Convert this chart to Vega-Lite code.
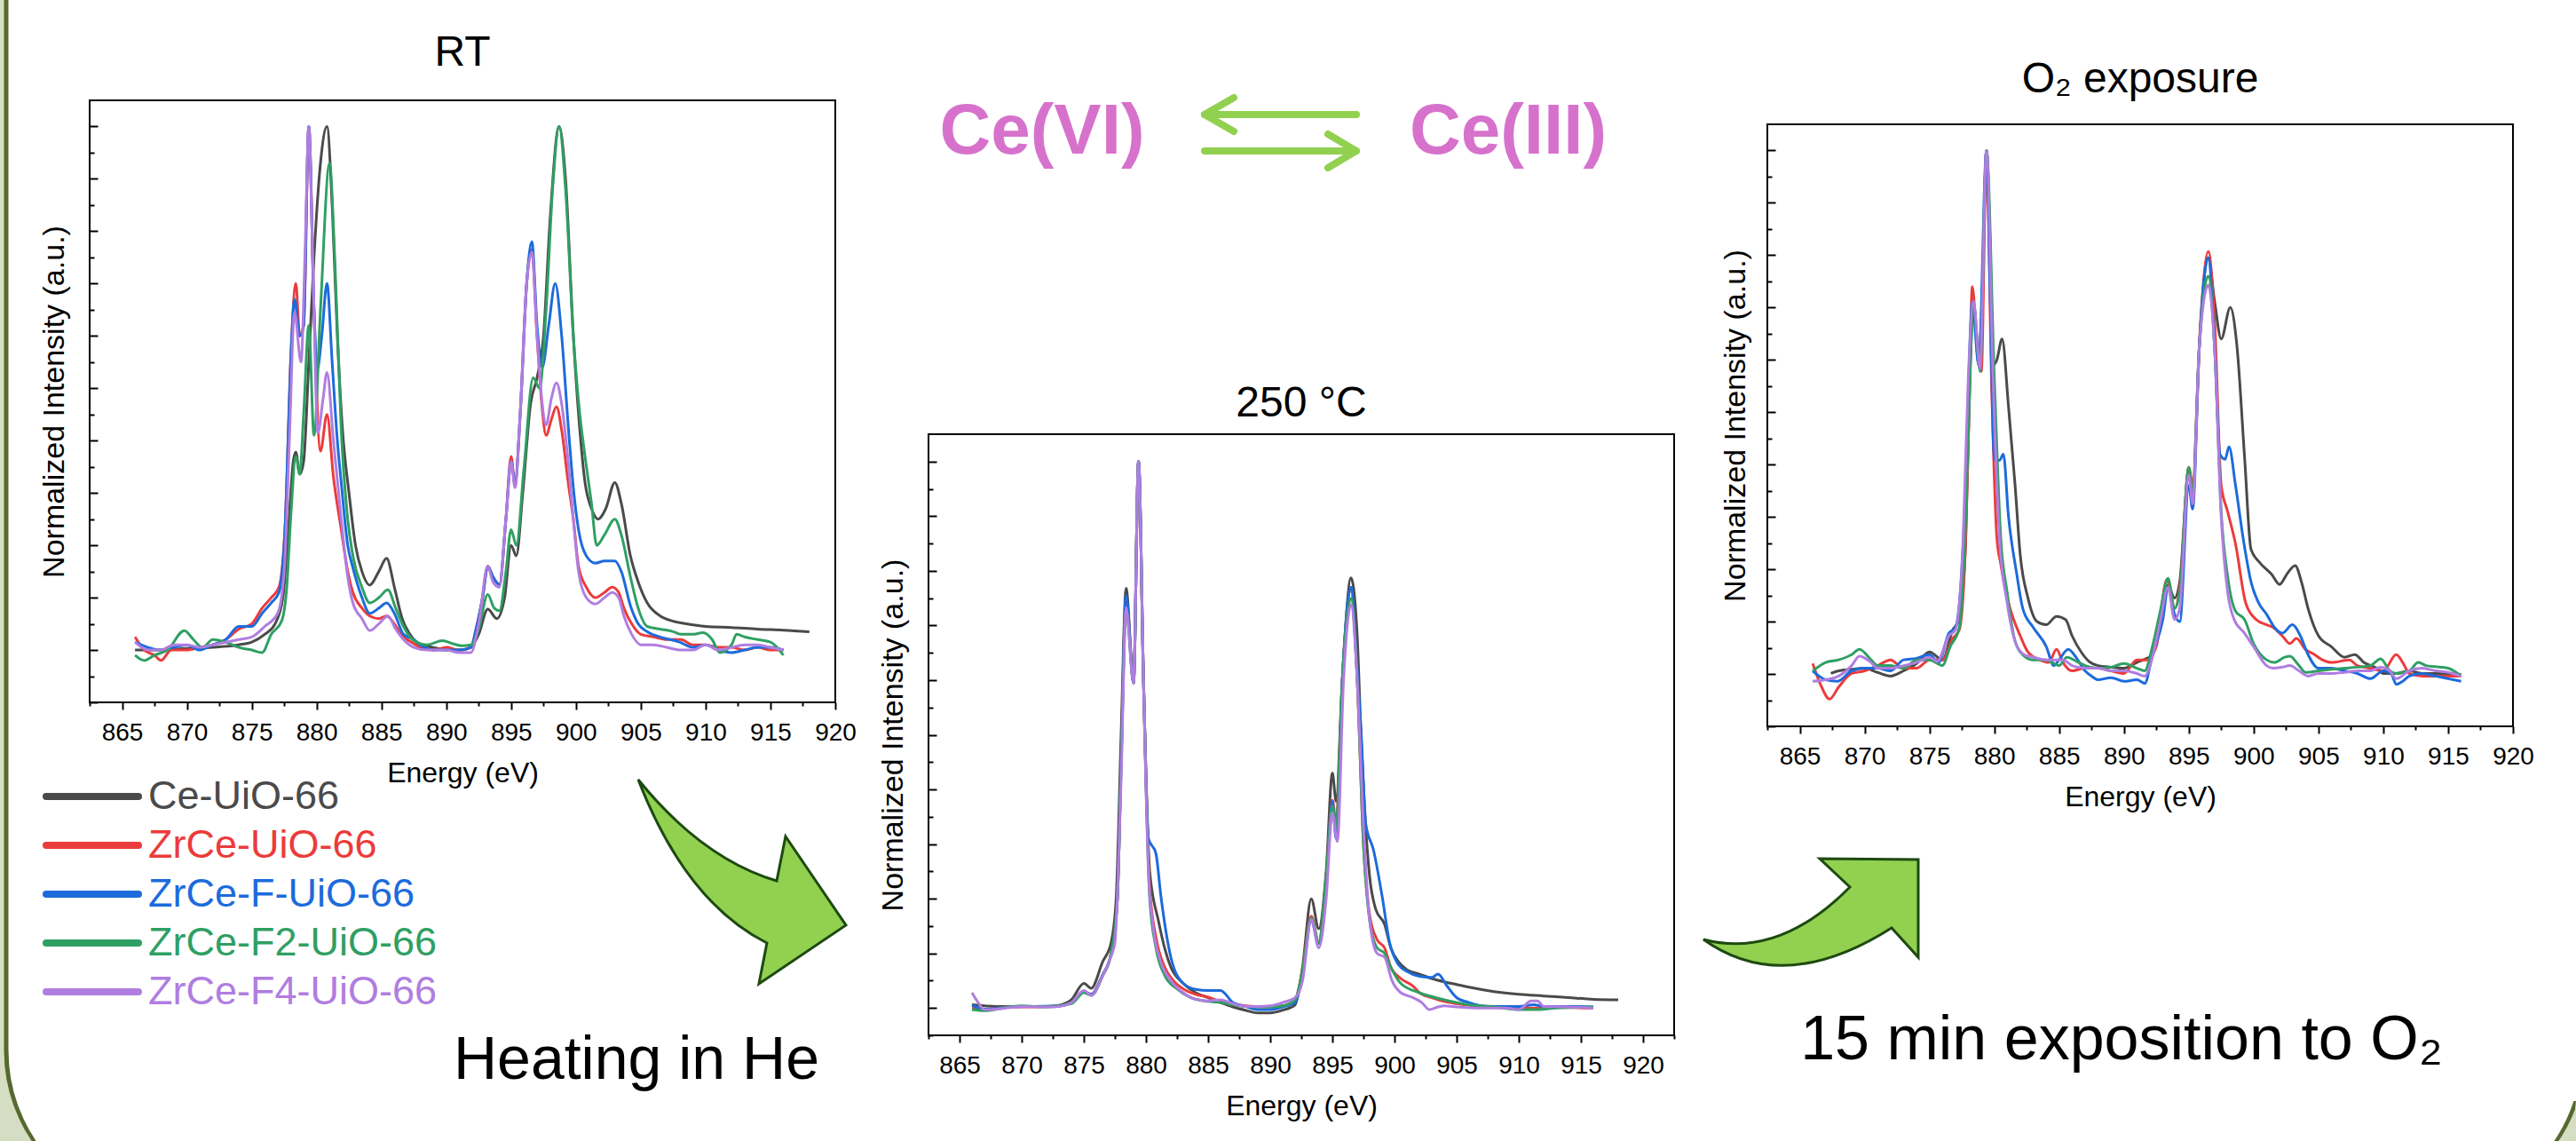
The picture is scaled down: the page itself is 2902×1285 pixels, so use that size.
{
"$schema":"https://vega.github.io/schema/vega-lite/v6.json",
"background":"#ffffff",
"padding":0,
"config":{"view":{"stroke":null},"font":"Liberation Sans"},
"datasets":{"spectra":[
{"p":1,"s":"Ce","e":866,"i":0},{"p":1,"s":"Ce","e":868,"i":0},{"p":1,"s":"Ce","e":870,"i":0.003},{"p":1,"s":"Ce","e":872,"i":0.005},{"p":1,"s":"Ce","e":874,"i":0.01},{"p":1,"s":"Ce","e":875,"i":0.015},{"p":1,"s":"Ce","e":876,"i":0.03},{"p":1,"s":"Ce","e":876.8,"i":0.05},{"p":1,"s":"Ce","e":877.4,"i":0.1},{"p":1,"s":"Ce","e":877.8,"i":0.22},{"p":1,"s":"Ce","e":878.2,"i":0.36},{"p":1,"s":"Ce","e":878.4,"i":0.378},{"p":1,"s":"Ce","e":878.7,"i":0.336},{"p":1,"s":"Ce","e":879,"i":0.36},{"p":1,"s":"Ce","e":879.4,"i":0.55},{"p":1,"s":"Ce","e":879.8,"i":0.75},{"p":1,"s":"Ce","e":880.3,"i":0.93},{"p":1,"s":"Ce","e":880.8,"i":1},{"p":1,"s":"Ce","e":881.2,"i":0.85},{"p":1,"s":"Ce","e":881.6,"i":0.6},{"p":1,"s":"Ce","e":882,"i":0.42},{"p":1,"s":"Ce","e":882.5,"i":0.3},{"p":1,"s":"Ce","e":883,"i":0.2},{"p":1,"s":"Ce","e":883.5,"i":0.15},{"p":1,"s":"Ce","e":884.1,"i":0.124},{"p":1,"s":"Ce","e":884.8,"i":0.15},{"p":1,"s":"Ce","e":885.4,"i":0.175},{"p":1,"s":"Ce","e":886,"i":0.12},{"p":1,"s":"Ce","e":886.6,"i":0.06},{"p":1,"s":"Ce","e":887.2,"i":0.03},{"p":1,"s":"Ce","e":888,"i":0.01},{"p":1,"s":"Ce","e":889,"i":0.005},{"p":1,"s":"Ce","e":890,"i":0},{"p":1,"s":"Ce","e":891,"i":0},{"p":1,"s":"Ce","e":891.9,"i":0.005},{"p":1,"s":"Ce","e":892.5,"i":0.03},{"p":1,"s":"Ce","e":893.2,"i":0.078},{"p":1,"s":"Ce","e":893.9,"i":0.06},{"p":1,"s":"Ce","e":894.5,"i":0.1},{"p":1,"s":"Ce","e":895,"i":0.2},{"p":1,"s":"Ce","e":895.4,"i":0.18},{"p":1,"s":"Ce","e":895.9,"i":0.3},{"p":1,"s":"Ce","e":896.5,"i":0.47},{"p":1,"s":"Ce","e":897,"i":0.52},{"p":1,"s":"Ce","e":897.5,"i":0.6},{"p":1,"s":"Ce","e":898,"i":0.82},{"p":1,"s":"Ce","e":898.7,"i":1},{"p":1,"s":"Ce","e":899.2,"i":0.9},{"p":1,"s":"Ce","e":899.8,"i":0.6},{"p":1,"s":"Ce","e":900.3,"i":0.42},{"p":1,"s":"Ce","e":900.7,"i":0.32},{"p":1,"s":"Ce","e":901.2,"i":0.27},{"p":1,"s":"Ce","e":901.7,"i":0.25},{"p":1,"s":"Ce","e":902.3,"i":0.27},{"p":1,"s":"Ce","e":903,"i":0.32},{"p":1,"s":"Ce","e":903.5,"i":0.28},{"p":1,"s":"Ce","e":904.2,"i":0.18},{"p":1,"s":"Ce","e":904.8,"i":0.13},{"p":1,"s":"Ce","e":905.5,"i":0.09},{"p":1,"s":"Ce","e":906.5,"i":0.065},{"p":1,"s":"Ce","e":907.5,"i":0.055},{"p":1,"s":"Ce","e":908.5,"i":0.05},{"p":1,"s":"Ce","e":910,"i":0.045},{"p":1,"s":"Ce","e":912,"i":0.043},{"p":1,"s":"Ce","e":914,"i":0.04},{"p":1,"s":"Ce","e":916,"i":0.038},{"p":1,"s":"Ce","e":918,"i":0.035},
{"p":1,"s":"Zr","e":866,"i":0.025},{"p":1,"s":"Zr","e":866.7,"i":0},{"p":1,"s":"Zr","e":867.5,"i":-0.01},{"p":1,"s":"Zr","e":868,"i":-0.02},{"p":1,"s":"Zr","e":868.8,"i":0},{"p":1,"s":"Zr","e":870,"i":0},{"p":1,"s":"Zr","e":871,"i":0.005},{"p":1,"s":"Zr","e":872,"i":0.01},{"p":1,"s":"Zr","e":873,"i":0.02},{"p":1,"s":"Zr","e":874,"i":0.04},{"p":1,"s":"Zr","e":875,"i":0.05},{"p":1,"s":"Zr","e":875.8,"i":0.08},{"p":1,"s":"Zr","e":876.5,"i":0.1},{"p":1,"s":"Zr","e":877.1,"i":0.12},{"p":1,"s":"Zr","e":877.6,"i":0.25},{"p":1,"s":"Zr","e":878,"i":0.55},{"p":1,"s":"Zr","e":878.4,"i":0.7},{"p":1,"s":"Zr","e":878.7,"i":0.6},{"p":1,"s":"Zr","e":879,"i":0.62},{"p":1,"s":"Zr","e":879.4,"i":1},{"p":1,"s":"Zr","e":879.8,"i":0.65},{"p":1,"s":"Zr","e":880.3,"i":0.38},{"p":1,"s":"Zr","e":880.8,"i":0.45},{"p":1,"s":"Zr","e":881.3,"i":0.33},{"p":1,"s":"Zr","e":881.9,"i":0.23},{"p":1,"s":"Zr","e":882.4,"i":0.15},{"p":1,"s":"Zr","e":882.8,"i":0.11},{"p":1,"s":"Zr","e":883.5,"i":0.08},{"p":1,"s":"Zr","e":884.1,"i":0.065},{"p":1,"s":"Zr","e":884.8,"i":0.06},{"p":1,"s":"Zr","e":885.4,"i":0.065},{"p":1,"s":"Zr","e":886,"i":0.05},{"p":1,"s":"Zr","e":886.5,"i":0.03},{"p":1,"s":"Zr","e":887.3,"i":0.015},{"p":1,"s":"Zr","e":888,"i":0.005},{"p":1,"s":"Zr","e":889,"i":0},{"p":1,"s":"Zr","e":890,"i":0.005},{"p":1,"s":"Zr","e":891,"i":0},{"p":1,"s":"Zr","e":891.9,"i":0.005},{"p":1,"s":"Zr","e":892.3,"i":0.04},{"p":1,"s":"Zr","e":892.8,"i":0.1},{"p":1,"s":"Zr","e":893.2,"i":0.16},{"p":1,"s":"Zr","e":893.6,"i":0.14},{"p":1,"s":"Zr","e":894.1,"i":0.125},{"p":1,"s":"Zr","e":894.6,"i":0.25},{"p":1,"s":"Zr","e":895,"i":0.37},{"p":1,"s":"Zr","e":895.3,"i":0.315},{"p":1,"s":"Zr","e":895.7,"i":0.45},{"p":1,"s":"Zr","e":896.2,"i":0.7},{"p":1,"s":"Zr","e":896.6,"i":0.765},{"p":1,"s":"Zr","e":897,"i":0.6},{"p":1,"s":"Zr","e":897.4,"i":0.46},{"p":1,"s":"Zr","e":897.7,"i":0.41},{"p":1,"s":"Zr","e":898.1,"i":0.44},{"p":1,"s":"Zr","e":898.5,"i":0.465},{"p":1,"s":"Zr","e":898.9,"i":0.42},{"p":1,"s":"Zr","e":899.4,"i":0.32},{"p":1,"s":"Zr","e":899.8,"i":0.25},{"p":1,"s":"Zr","e":900.2,"i":0.16},{"p":1,"s":"Zr","e":900.8,"i":0.12},{"p":1,"s":"Zr","e":901.5,"i":0.1},{"p":1,"s":"Zr","e":902.2,"i":0.11},{"p":1,"s":"Zr","e":902.8,"i":0.12},{"p":1,"s":"Zr","e":903.3,"i":0.11},{"p":1,"s":"Zr","e":903.7,"i":0.08},{"p":1,"s":"Zr","e":904.3,"i":0.05},{"p":1,"s":"Zr","e":905,"i":0.03},{"p":1,"s":"Zr","e":906,"i":0.025},{"p":1,"s":"Zr","e":907,"i":0.02},{"p":1,"s":"Zr","e":908.1,"i":0.02},{"p":1,"s":"Zr","e":909,"i":0.01},{"p":1,"s":"Zr","e":910,"i":0.01},{"p":1,"s":"Zr","e":911,"i":0.005},{"p":1,"s":"Zr","e":912,"i":0.005},{"p":1,"s":"Zr","e":913,"i":0},{"p":1,"s":"Zr","e":914,"i":0.005},{"p":1,"s":"Zr","e":915,"i":0},{"p":1,"s":"Zr","e":916,"i":0},
{"p":1,"s":"F","e":866,"i":0.015},{"p":1,"s":"F","e":867,"i":0.005},{"p":1,"s":"F","e":868,"i":0},{"p":1,"s":"F","e":869,"i":0.005},{"p":1,"s":"F","e":870,"i":0.01},{"p":1,"s":"F","e":871,"i":0},{"p":1,"s":"F","e":872,"i":0.01},{"p":1,"s":"F","e":873,"i":0.02},{"p":1,"s":"F","e":874,"i":0.045},{"p":1,"s":"F","e":875,"i":0.045},{"p":1,"s":"F","e":875.8,"i":0.07},{"p":1,"s":"F","e":876.5,"i":0.09},{"p":1,"s":"F","e":877.1,"i":0.11},{"p":1,"s":"F","e":877.6,"i":0.25},{"p":1,"s":"F","e":878,"i":0.55},{"p":1,"s":"F","e":878.3,"i":0.67},{"p":1,"s":"F","e":878.7,"i":0.6},{"p":1,"s":"F","e":879,"i":0.62},{"p":1,"s":"F","e":879.4,"i":1},{"p":1,"s":"F","e":879.8,"i":0.65},{"p":1,"s":"F","e":880.05,"i":0.535},{"p":1,"s":"F","e":880.4,"i":0.6},{"p":1,"s":"F","e":880.8,"i":0.7},{"p":1,"s":"F","e":881.2,"i":0.55},{"p":1,"s":"F","e":881.6,"i":0.4},{"p":1,"s":"F","e":881.9,"i":0.32},{"p":1,"s":"F","e":882.4,"i":0.2},{"p":1,"s":"F","e":882.8,"i":0.157},{"p":1,"s":"F","e":883.5,"i":0.1},{"p":1,"s":"F","e":884.1,"i":0.07},{"p":1,"s":"F","e":884.8,"i":0.08},{"p":1,"s":"F","e":885.4,"i":0.09},{"p":1,"s":"F","e":886,"i":0.07},{"p":1,"s":"F","e":886.7,"i":0.03},{"p":1,"s":"F","e":887.5,"i":0.02},{"p":1,"s":"F","e":888,"i":0.01},{"p":1,"s":"F","e":889,"i":0},{"p":1,"s":"F","e":890,"i":0},{"p":1,"s":"F","e":891,"i":0},{"p":1,"s":"F","e":891.9,"i":0.005},{"p":1,"s":"F","e":892.3,"i":0.04},{"p":1,"s":"F","e":892.8,"i":0.1},{"p":1,"s":"F","e":893.2,"i":0.16},{"p":1,"s":"F","e":893.6,"i":0.14},{"p":1,"s":"F","e":894.1,"i":0.125},{"p":1,"s":"F","e":894.6,"i":0.25},{"p":1,"s":"F","e":895,"i":0.36},{"p":1,"s":"F","e":895.3,"i":0.32},{"p":1,"s":"F","e":895.7,"i":0.45},{"p":1,"s":"F","e":896.2,"i":0.7},{"p":1,"s":"F","e":896.6,"i":0.78},{"p":1,"s":"F","e":897,"i":0.62},{"p":1,"s":"F","e":897.4,"i":0.54},{"p":1,"s":"F","e":897.9,"i":0.62},{"p":1,"s":"F","e":898.4,"i":0.7},{"p":1,"s":"F","e":898.9,"i":0.6},{"p":1,"s":"F","e":899.4,"i":0.43},{"p":1,"s":"F","e":899.8,"i":0.31},{"p":1,"s":"F","e":900.2,"i":0.23},{"p":1,"s":"F","e":900.8,"i":0.18},{"p":1,"s":"F","e":901.5,"i":0.166},{"p":1,"s":"F","e":902.2,"i":0.17},{"p":1,"s":"F","e":903,"i":0.17},{"p":1,"s":"F","e":903.5,"i":0.15},{"p":1,"s":"F","e":904.2,"i":0.085},{"p":1,"s":"F","e":904.8,"i":0.05},{"p":1,"s":"F","e":905.5,"i":0.035},{"p":1,"s":"F","e":906.5,"i":0.025},{"p":1,"s":"F","e":908,"i":0.015},{"p":1,"s":"F","e":909,"i":0.005},{"p":1,"s":"F","e":910,"i":0.01},{"p":1,"s":"F","e":911,"i":0},{"p":1,"s":"F","e":912,"i":-0.005},{"p":1,"s":"F","e":913,"i":0},{"p":1,"s":"F","e":914,"i":0.005},{"p":1,"s":"F","e":915,"i":0.005},{"p":1,"s":"F","e":916,"i":0},
{"p":1,"s":"F2","e":866,"i":-0.01},{"p":1,"s":"F2","e":866.7,"i":-0.02},{"p":1,"s":"F2","e":867.5,"i":-0.01},{"p":1,"s":"F2","e":868.5,"i":0},{"p":1,"s":"F2","e":869.8,"i":0.037},{"p":1,"s":"F2","e":870.5,"i":0.02},{"p":1,"s":"F2","e":871.2,"i":0.005},{"p":1,"s":"F2","e":872,"i":0.02},{"p":1,"s":"F2","e":873,"i":0.015},{"p":1,"s":"F2","e":874,"i":0.005},{"p":1,"s":"F2","e":875,"i":0},{"p":1,"s":"F2","e":875.8,"i":-0.005},{"p":1,"s":"F2","e":876.5,"i":0.03},{"p":1,"s":"F2","e":877.3,"i":0.055},{"p":1,"s":"F2","e":877.7,"i":0.12},{"p":1,"s":"F2","e":878,"i":0.25},{"p":1,"s":"F2","e":878.4,"i":0.37},{"p":1,"s":"F2","e":878.7,"i":0.336},{"p":1,"s":"F2","e":879,"i":0.45},{"p":1,"s":"F2","e":879.4,"i":0.62},{"p":1,"s":"F2","e":879.8,"i":0.41},{"p":1,"s":"F2","e":880.3,"i":0.65},{"p":1,"s":"F2","e":881,"i":0.93},{"p":1,"s":"F2","e":881.4,"i":0.75},{"p":1,"s":"F2","e":881.9,"i":0.42},{"p":1,"s":"F2","e":882.4,"i":0.25},{"p":1,"s":"F2","e":882.8,"i":0.18},{"p":1,"s":"F2","e":883.5,"i":0.12},{"p":1,"s":"F2","e":884.1,"i":0.09},{"p":1,"s":"F2","e":884.8,"i":0.1},{"p":1,"s":"F2","e":885.5,"i":0.115},{"p":1,"s":"F2","e":886.1,"i":0.08},{"p":1,"s":"F2","e":886.7,"i":0.045},{"p":1,"s":"F2","e":887.4,"i":0.02},{"p":1,"s":"F2","e":888.5,"i":0.01},{"p":1,"s":"F2","e":889.7,"i":0.018},{"p":1,"s":"F2","e":890.5,"i":0.012},{"p":1,"s":"F2","e":891.2,"i":0.008},{"p":1,"s":"F2","e":891.9,"i":0.01},{"p":1,"s":"F2","e":892.5,"i":0.04},{"p":1,"s":"F2","e":893.2,"i":0.106},{"p":1,"s":"F2","e":893.7,"i":0.08},{"p":1,"s":"F2","e":894.1,"i":0.075},{"p":1,"s":"F2","e":894.6,"i":0.15},{"p":1,"s":"F2","e":895,"i":0.23},{"p":1,"s":"F2","e":895.4,"i":0.2},{"p":1,"s":"F2","e":896,"i":0.35},{"p":1,"s":"F2","e":896.7,"i":0.52},{"p":1,"s":"F2","e":897.2,"i":0.5},{"p":1,"s":"F2","e":897.7,"i":0.65},{"p":1,"s":"F2","e":898.2,"i":0.88},{"p":1,"s":"F2","e":898.7,"i":1},{"p":1,"s":"F2","e":899.2,"i":0.88},{"p":1,"s":"F2","e":899.8,"i":0.6},{"p":1,"s":"F2","e":900.3,"i":0.45},{"p":1,"s":"F2","e":900.7,"i":0.37},{"p":1,"s":"F2","e":901.2,"i":0.28},{"p":1,"s":"F2","e":901.6,"i":0.2},{"p":1,"s":"F2","e":902.2,"i":0.22},{"p":1,"s":"F2","e":903,"i":0.25},{"p":1,"s":"F2","e":903.5,"i":0.22},{"p":1,"s":"F2","e":904.2,"i":0.14},{"p":1,"s":"F2","e":904.8,"i":0.08},{"p":1,"s":"F2","e":905.5,"i":0.045},{"p":1,"s":"F2","e":906.5,"i":0.04},{"p":1,"s":"F2","e":907.5,"i":0.035},{"p":1,"s":"F2","e":908.1,"i":0.03},{"p":1,"s":"F2","e":909,"i":0.03},{"p":1,"s":"F2","e":909.8,"i":0.033},{"p":1,"s":"F2","e":910.5,"i":0.02},{"p":1,"s":"F2","e":911.1,"i":-0.005},{"p":1,"s":"F2","e":912,"i":0.01},{"p":1,"s":"F2","e":912.4,"i":0.03},{"p":1,"s":"F2","e":913,"i":0.025},{"p":1,"s":"F2","e":914,"i":0.02},{"p":1,"s":"F2","e":915,"i":0.015},{"p":1,"s":"F2","e":916,"i":-0.01},
{"p":1,"s":"F4","e":866,"i":0.015},{"p":1,"s":"F4","e":867,"i":0},{"p":1,"s":"F4","e":868,"i":0},{"p":1,"s":"F4","e":869,"i":0.01},{"p":1,"s":"F4","e":870,"i":0.01},{"p":1,"s":"F4","e":871,"i":0.005},{"p":1,"s":"F4","e":872,"i":0.01},{"p":1,"s":"F4","e":873,"i":0.015},{"p":1,"s":"F4","e":874,"i":0.02},{"p":1,"s":"F4","e":875,"i":0.025},{"p":1,"s":"F4","e":876,"i":0.045},{"p":1,"s":"F4","e":877,"i":0.07},{"p":1,"s":"F4","e":877.5,"i":0.15},{"p":1,"s":"F4","e":877.9,"i":0.4},{"p":1,"s":"F4","e":878.3,"i":0.645},{"p":1,"s":"F4","e":878.8,"i":0.55},{"p":1,"s":"F4","e":879.1,"i":0.75},{"p":1,"s":"F4","e":879.4,"i":1},{"p":1,"s":"F4","e":879.7,"i":0.75},{"p":1,"s":"F4","e":880.1,"i":0.415},{"p":1,"s":"F4","e":880.5,"i":0.48},{"p":1,"s":"F4","e":880.8,"i":0.53},{"p":1,"s":"F4","e":881.3,"i":0.4},{"p":1,"s":"F4","e":881.9,"i":0.25},{"p":1,"s":"F4","e":882.4,"i":0.14},{"p":1,"s":"F4","e":882.8,"i":0.09},{"p":1,"s":"F4","e":883.5,"i":0.06},{"p":1,"s":"F4","e":884.1,"i":0.037},{"p":1,"s":"F4","e":884.8,"i":0.05},{"p":1,"s":"F4","e":885.5,"i":0.065},{"p":1,"s":"F4","e":886.1,"i":0.04},{"p":1,"s":"F4","e":886.7,"i":0.02},{"p":1,"s":"F4","e":887.5,"i":0.005},{"p":1,"s":"F4","e":888.5,"i":0},{"p":1,"s":"F4","e":890,"i":0},{"p":1,"s":"F4","e":891,"i":-0.005},{"p":1,"s":"F4","e":891.9,"i":-0.005},{"p":1,"s":"F4","e":892.5,"i":0.05},{"p":1,"s":"F4","e":893.2,"i":0.16},{"p":1,"s":"F4","e":893.6,"i":0.13},{"p":1,"s":"F4","e":894.1,"i":0.12},{"p":1,"s":"F4","e":894.6,"i":0.25},{"p":1,"s":"F4","e":895,"i":0.36},{"p":1,"s":"F4","e":895.3,"i":0.31},{"p":1,"s":"F4","e":895.7,"i":0.45},{"p":1,"s":"F4","e":896.2,"i":0.7},{"p":1,"s":"F4","e":896.6,"i":0.76},{"p":1,"s":"F4","e":897,"i":0.6},{"p":1,"s":"F4","e":897.4,"i":0.47},{"p":1,"s":"F4","e":897.7,"i":0.43},{"p":1,"s":"F4","e":898.1,"i":0.48},{"p":1,"s":"F4","e":898.5,"i":0.51},{"p":1,"s":"F4","e":898.9,"i":0.47},{"p":1,"s":"F4","e":899.4,"i":0.36},{"p":1,"s":"F4","e":899.8,"i":0.25},{"p":1,"s":"F4","e":900.2,"i":0.15},{"p":1,"s":"F4","e":900.8,"i":0.1},{"p":1,"s":"F4","e":901.5,"i":0.088},{"p":1,"s":"F4","e":902.2,"i":0.1},{"p":1,"s":"F4","e":902.8,"i":0.11},{"p":1,"s":"F4","e":903.3,"i":0.1},{"p":1,"s":"F4","e":903.7,"i":0.065},{"p":1,"s":"F4","e":904.3,"i":0.03},{"p":1,"s":"F4","e":905,"i":0.01},{"p":1,"s":"F4","e":906,"i":0.01},{"p":1,"s":"F4","e":907,"i":0.005},{"p":1,"s":"F4","e":908.1,"i":0},{"p":1,"s":"F4","e":909,"i":0},{"p":1,"s":"F4","e":910,"i":0.01},{"p":1,"s":"F4","e":911,"i":0},{"p":1,"s":"F4","e":912,"i":0.005},{"p":1,"s":"F4","e":913,"i":0.01},{"p":1,"s":"F4","e":914,"i":0.01},{"p":1,"s":"F4","e":915,"i":0.005},{"p":1,"s":"F4","e":916,"i":0},
{"p":2,"s":"Ce","e":866,"i":0.006},{"p":2,"s":"Ce","e":868,"i":0.003},{"p":2,"s":"Ce","e":870,"i":0.003},{"p":2,"s":"Ce","e":872,"i":0.003},{"p":2,"s":"Ce","e":873,"i":0.005},{"p":2,"s":"Ce","e":874,"i":0.015},{"p":2,"s":"Ce","e":875,"i":0.045},{"p":2,"s":"Ce","e":875.6,"i":0.036},{"p":2,"s":"Ce","e":876.5,"i":0.084},{"p":2,"s":"Ce","e":877.2,"i":0.12},{"p":2,"s":"Ce","e":877.6,"i":0.2},{"p":2,"s":"Ce","e":878,"i":0.5},{"p":2,"s":"Ce","e":878.4,"i":0.768},{"p":2,"s":"Ce","e":879,"i":0.595},{"p":2,"s":"Ce","e":879.4,"i":1},{"p":2,"s":"Ce","e":879.8,"i":0.6},{"p":2,"s":"Ce","e":880.3,"i":0.25},{"p":2,"s":"Ce","e":881,"i":0.16},{"p":2,"s":"Ce","e":881.5,"i":0.11},{"p":2,"s":"Ce","e":882,"i":0.075},{"p":2,"s":"Ce","e":883,"i":0.045},{"p":2,"s":"Ce","e":884,"i":0.028},{"p":2,"s":"Ce","e":885,"i":0.019},{"p":2,"s":"Ce","e":886,"i":0.01},{"p":2,"s":"Ce","e":887,"i":0.002},{"p":2,"s":"Ce","e":888,"i":-0.004},{"p":2,"s":"Ce","e":889,"i":-0.009},{"p":2,"s":"Ce","e":890,"i":-0.009},{"p":2,"s":"Ce","e":891,"i":-0.004},{"p":2,"s":"Ce","e":892,"i":0.006},{"p":2,"s":"Ce","e":892.6,"i":0.075},{"p":2,"s":"Ce","e":893.3,"i":0.2},{"p":2,"s":"Ce","e":893.9,"i":0.145},{"p":2,"s":"Ce","e":894.5,"i":0.25},{"p":2,"s":"Ce","e":895,"i":0.43},{"p":2,"s":"Ce","e":895.3,"i":0.378},{"p":2,"s":"Ce","e":895.8,"i":0.6},{"p":2,"s":"Ce","e":896.5,"i":0.787},{"p":2,"s":"Ce","e":897,"i":0.68},{"p":2,"s":"Ce","e":897.3,"i":0.5},{"p":2,"s":"Ce","e":897.6,"i":0.36},{"p":2,"s":"Ce","e":898,"i":0.24},{"p":2,"s":"Ce","e":898.5,"i":0.18},{"p":2,"s":"Ce","e":899.2,"i":0.153},{"p":2,"s":"Ce","e":899.7,"i":0.11},{"p":2,"s":"Ce","e":900.3,"i":0.085},{"p":2,"s":"Ce","e":901,"i":0.07},{"p":2,"s":"Ce","e":902,"i":0.062},{"p":2,"s":"Ce","e":903,"i":0.054},{"p":2,"s":"Ce","e":904,"i":0.048},{"p":2,"s":"Ce","e":905,"i":0.043},{"p":2,"s":"Ce","e":906,"i":0.038},{"p":2,"s":"Ce","e":908,"i":0.03},{"p":2,"s":"Ce","e":910,"i":0.025},{"p":2,"s":"Ce","e":912,"i":0.022},{"p":2,"s":"Ce","e":914,"i":0.019},{"p":2,"s":"Ce","e":916,"i":0.016},{"p":2,"s":"Ce","e":918,"i":0.015},
{"p":2,"s":"Zr","e":866,"i":0},{"p":2,"s":"Zr","e":867,"i":-0.002},{"p":2,"s":"Zr","e":869,"i":0.002},{"p":2,"s":"Zr","e":871,"i":0.002},{"p":2,"s":"Zr","e":873,"i":0.004},{"p":2,"s":"Zr","e":874,"i":0.01},{"p":2,"s":"Zr","e":875,"i":0.03},{"p":2,"s":"Zr","e":875.6,"i":0.025},{"p":2,"s":"Zr","e":876.5,"i":0.06},{"p":2,"s":"Zr","e":877.2,"i":0.1},{"p":2,"s":"Zr","e":877.7,"i":0.2},{"p":2,"s":"Zr","e":878,"i":0.45},{"p":2,"s":"Zr","e":878.4,"i":0.75},{"p":2,"s":"Zr","e":879,"i":0.595},{"p":2,"s":"Zr","e":879.4,"i":1},{"p":2,"s":"Zr","e":879.8,"i":0.6},{"p":2,"s":"Zr","e":880.3,"i":0.22},{"p":2,"s":"Zr","e":880.8,"i":0.13},{"p":2,"s":"Zr","e":881.5,"i":0.075},{"p":2,"s":"Zr","e":882.2,"i":0.05},{"p":2,"s":"Zr","e":883,"i":0.035},{"p":2,"s":"Zr","e":884,"i":0.025},{"p":2,"s":"Zr","e":885,"i":0.02},{"p":2,"s":"Zr","e":886,"i":0.012},{"p":2,"s":"Zr","e":887,"i":0.008},{"p":2,"s":"Zr","e":888,"i":0.004},{"p":2,"s":"Zr","e":890,"i":0.002},{"p":2,"s":"Zr","e":891,"i":0.004},{"p":2,"s":"Zr","e":892,"i":0.015},{"p":2,"s":"Zr","e":892.6,"i":0.07},{"p":2,"s":"Zr","e":893.3,"i":0.168},{"p":2,"s":"Zr","e":893.9,"i":0.12},{"p":2,"s":"Zr","e":894.5,"i":0.24},{"p":2,"s":"Zr","e":895,"i":0.38},{"p":2,"s":"Zr","e":895.3,"i":0.34},{"p":2,"s":"Zr","e":895.8,"i":0.6},{"p":2,"s":"Zr","e":896.5,"i":0.765},{"p":2,"s":"Zr","e":897,"i":0.6},{"p":2,"s":"Zr","e":897.5,"i":0.3},{"p":2,"s":"Zr","e":898,"i":0.17},{"p":2,"s":"Zr","e":898.6,"i":0.125},{"p":2,"s":"Zr","e":899.2,"i":0.11},{"p":2,"s":"Zr","e":899.7,"i":0.075},{"p":2,"s":"Zr","e":900.5,"i":0.054},{"p":2,"s":"Zr","e":901.5,"i":0.04},{"p":2,"s":"Zr","e":902,"i":0.028},{"p":2,"s":"Zr","e":903,"i":0.019},{"p":2,"s":"Zr","e":904,"i":0.012},{"p":2,"s":"Zr","e":905,"i":0.008},{"p":2,"s":"Zr","e":907,"i":0.003},{"p":2,"s":"Zr","e":909,"i":0.002},{"p":2,"s":"Zr","e":911,"i":0},{"p":2,"s":"Zr","e":913,"i":0.001},{"p":2,"s":"Zr","e":916,"i":0},
{"p":2,"s":"F","e":866,"i":0.005},{"p":2,"s":"F","e":867,"i":-0.002},{"p":2,"s":"F","e":869,"i":0.002},{"p":2,"s":"F","e":871,"i":0.003},{"p":2,"s":"F","e":873,"i":0.004},{"p":2,"s":"F","e":874,"i":0.01},{"p":2,"s":"F","e":875,"i":0.03},{"p":2,"s":"F","e":875.6,"i":0.025},{"p":2,"s":"F","e":876.5,"i":0.06},{"p":2,"s":"F","e":877.2,"i":0.1},{"p":2,"s":"F","e":877.7,"i":0.2},{"p":2,"s":"F","e":878,"i":0.45},{"p":2,"s":"F","e":878.4,"i":0.755},{"p":2,"s":"F","e":879,"i":0.595},{"p":2,"s":"F","e":879.4,"i":1},{"p":2,"s":"F","e":879.8,"i":0.6},{"p":2,"s":"F","e":880.2,"i":0.31},{"p":2,"s":"F","e":880.8,"i":0.283},{"p":2,"s":"F","e":881.2,"i":0.205},{"p":2,"s":"F","e":882,"i":0.093},{"p":2,"s":"F","e":883,"i":0.045},{"p":2,"s":"F","e":884,"i":0.034},{"p":2,"s":"F","e":885,"i":0.032},{"p":2,"s":"F","e":886,"i":0.032},{"p":2,"s":"F","e":887,"i":0.01},{"p":2,"s":"F","e":888,"i":0.003},{"p":2,"s":"F","e":889,"i":-0.003},{"p":2,"s":"F","e":890,"i":-0.003},{"p":2,"s":"F","e":891,"i":0.002},{"p":2,"s":"F","e":892,"i":0.01},{"p":2,"s":"F","e":892.6,"i":0.06},{"p":2,"s":"F","e":893.3,"i":0.16},{"p":2,"s":"F","e":893.9,"i":0.118},{"p":2,"s":"F","e":894.5,"i":0.23},{"p":2,"s":"F","e":895,"i":0.378},{"p":2,"s":"F","e":895.3,"i":0.31},{"p":2,"s":"F","e":895.8,"i":0.6},{"p":2,"s":"F","e":896.5,"i":0.77},{"p":2,"s":"F","e":897,"i":0.62},{"p":2,"s":"F","e":897.3,"i":0.51},{"p":2,"s":"F","e":897.7,"i":0.335},{"p":2,"s":"F","e":898.3,"i":0.29},{"p":2,"s":"F","e":899,"i":0.205},{"p":2,"s":"F","e":899.6,"i":0.12},{"p":2,"s":"F","e":900.3,"i":0.08},{"p":2,"s":"F","e":901,"i":0.067},{"p":2,"s":"F","e":902,"i":0.058},{"p":2,"s":"F","e":903,"i":0.056},{"p":2,"s":"F","e":903.5,"i":0.062},{"p":2,"s":"F","e":904.2,"i":0.041},{"p":2,"s":"F","e":905,"i":0.019},{"p":2,"s":"F","e":906,"i":0.01},{"p":2,"s":"F","e":907,"i":0.004},{"p":2,"s":"F","e":908,"i":0.003},{"p":2,"s":"F","e":910,"i":0.003},{"p":2,"s":"F","e":911.2,"i":0.006},{"p":2,"s":"F","e":912,"i":0.003},{"p":2,"s":"F","e":914,"i":0.003},{"p":2,"s":"F","e":916,"i":0.002},
{"p":2,"s":"F2","e":866,"i":-0.003},{"p":2,"s":"F2","e":867,"i":-0.005},{"p":2,"s":"F2","e":869,"i":0.002},{"p":2,"s":"F2","e":870,"i":0.004},{"p":2,"s":"F2","e":872,"i":0.002},{"p":2,"s":"F2","e":874,"i":0.008},{"p":2,"s":"F2","e":875,"i":0.028},{"p":2,"s":"F2","e":875.6,"i":0.023},{"p":2,"s":"F2","e":876.5,"i":0.058},{"p":2,"s":"F2","e":877.2,"i":0.1},{"p":2,"s":"F2","e":877.7,"i":0.2},{"p":2,"s":"F2","e":878,"i":0.44},{"p":2,"s":"F2","e":878.4,"i":0.73},{"p":2,"s":"F2","e":879,"i":0.595},{"p":2,"s":"F2","e":879.4,"i":1},{"p":2,"s":"F2","e":879.8,"i":0.6},{"p":2,"s":"F2","e":880.3,"i":0.2},{"p":2,"s":"F2","e":880.8,"i":0.11},{"p":2,"s":"F2","e":881.5,"i":0.06},{"p":2,"s":"F2","e":882.5,"i":0.035},{"p":2,"s":"F2","e":883.5,"i":0.02},{"p":2,"s":"F2","e":885,"i":0.012},{"p":2,"s":"F2","e":886,"i":0.01},{"p":2,"s":"F2","e":887,"i":0.006},{"p":2,"s":"F2","e":888,"i":0.003},{"p":2,"s":"F2","e":890,"i":0.002},{"p":2,"s":"F2","e":891,"i":0.004},{"p":2,"s":"F2","e":892,"i":0.015},{"p":2,"s":"F2","e":892.6,"i":0.07},{"p":2,"s":"F2","e":893.3,"i":0.165},{"p":2,"s":"F2","e":893.9,"i":0.12},{"p":2,"s":"F2","e":894.5,"i":0.24},{"p":2,"s":"F2","e":895,"i":0.37},{"p":2,"s":"F2","e":895.3,"i":0.33},{"p":2,"s":"F2","e":895.8,"i":0.6},{"p":2,"s":"F2","e":896.5,"i":0.75},{"p":2,"s":"F2","e":897,"i":0.6},{"p":2,"s":"F2","e":897.5,"i":0.3},{"p":2,"s":"F2","e":898,"i":0.16},{"p":2,"s":"F2","e":898.6,"i":0.11},{"p":2,"s":"F2","e":899.2,"i":0.1},{"p":2,"s":"F2","e":899.8,"i":0.07},{"p":2,"s":"F2","e":900.5,"i":0.045},{"p":2,"s":"F2","e":902,"i":0.028},{"p":2,"s":"F2","e":904,"i":0.015},{"p":2,"s":"F2","e":906,"i":0.006},{"p":2,"s":"F2","e":908,"i":0.002},{"p":2,"s":"F2","e":910,"i":-0.003},{"p":2,"s":"F2","e":911.5,"i":-0.003},{"p":2,"s":"F2","e":913,"i":0},{"p":2,"s":"F2","e":916,"i":0.002},
{"p":2,"s":"F4","e":866,"i":0.028},{"p":2,"s":"F4","e":866.5,"i":0.01},{"p":2,"s":"F4","e":867,"i":-0.003},{"p":2,"s":"F4","e":868,"i":-0.002},{"p":2,"s":"F4","e":870,"i":0.003},{"p":2,"s":"F4","e":872,"i":0.002},{"p":2,"s":"F4","e":873,"i":0.003},{"p":2,"s":"F4","e":874,"i":0.01},{"p":2,"s":"F4","e":875,"i":0.032},{"p":2,"s":"F4","e":875.6,"i":0.023},{"p":2,"s":"F4","e":876.5,"i":0.058},{"p":2,"s":"F4","e":877,"i":0.084},{"p":2,"s":"F4","e":877.5,"i":0.12},{"p":2,"s":"F4","e":878,"i":0.42},{"p":2,"s":"F4","e":878.4,"i":0.733},{"p":2,"s":"F4","e":879,"i":0.595},{"p":2,"s":"F4","e":879.4,"i":1},{"p":2,"s":"F4","e":879.8,"i":0.6},{"p":2,"s":"F4","e":880.2,"i":0.25},{"p":2,"s":"F4","e":880.6,"i":0.145},{"p":2,"s":"F4","e":881.2,"i":0.084},{"p":2,"s":"F4","e":882,"i":0.05},{"p":2,"s":"F4","e":883,"i":0.028},{"p":2,"s":"F4","e":884,"i":0.016},{"p":2,"s":"F4","e":885,"i":0.013},{"p":2,"s":"F4","e":886,"i":0.015},{"p":2,"s":"F4","e":887,"i":0.008},{"p":2,"s":"F4","e":888,"i":0.003},{"p":2,"s":"F4","e":889,"i":0.003},{"p":2,"s":"F4","e":890,"i":0.004},{"p":2,"s":"F4","e":891,"i":0.01},{"p":2,"s":"F4","e":892,"i":0.019},{"p":2,"s":"F4","e":892.6,"i":0.05},{"p":2,"s":"F4","e":893.3,"i":0.162},{"p":2,"s":"F4","e":893.9,"i":0.11},{"p":2,"s":"F4","e":894.5,"i":0.2},{"p":2,"s":"F4","e":895,"i":0.357},{"p":2,"s":"F4","e":895.4,"i":0.305},{"p":2,"s":"F4","e":895.9,"i":0.6},{"p":2,"s":"F4","e":896.5,"i":0.738},{"p":2,"s":"F4","e":897,"i":0.6},{"p":2,"s":"F4","e":897.5,"i":0.335},{"p":2,"s":"F4","e":898,"i":0.16},{"p":2,"s":"F4","e":898.6,"i":0.1},{"p":2,"s":"F4","e":899.2,"i":0.093},{"p":2,"s":"F4","e":899.8,"i":0.05},{"p":2,"s":"F4","e":900.5,"i":0.028},{"p":2,"s":"F4","e":901.5,"i":0.019},{"p":2,"s":"F4","e":902.2,"i":0.01},{"p":2,"s":"F4","e":902.8,"i":-0.003},{"p":2,"s":"F4","e":903.5,"i":0.002},{"p":2,"s":"F4","e":904,"i":0.004},{"p":2,"s":"F4","e":905,"i":0.002},{"p":2,"s":"F4","e":907,"i":0},{"p":2,"s":"F4","e":909,"i":0},{"p":2,"s":"F4","e":910,"i":-0.003},{"p":2,"s":"F4","e":911,"i":0.013},{"p":2,"s":"F4","e":911.5,"i":0.013},{"p":2,"s":"F4","e":912,"i":0.003},{"p":2,"s":"F4","e":914,"i":0.002},{"p":2,"s":"F4","e":916,"i":0},
{"p":3,"s":"Ce","e":867.4,"i":0.001},{"p":3,"s":"Ce","e":868,"i":0.006},{"p":3,"s":"Ce","e":869,"i":0.009},{"p":3,"s":"Ce","e":870,"i":0.011},{"p":3,"s":"Ce","e":871,"i":0.003},{"p":3,"s":"Ce","e":872,"i":-0.004},{"p":3,"s":"Ce","e":873,"i":0.006},{"p":3,"s":"Ce","e":874,"i":0.02},{"p":3,"s":"Ce","e":875,"i":0.042},{"p":3,"s":"Ce","e":876,"i":0.027},{"p":3,"s":"Ce","e":876.8,"i":0.084},{"p":3,"s":"Ce","e":877.3,"i":0.104},{"p":3,"s":"Ce","e":877.8,"i":0.26},{"p":3,"s":"Ce","e":878.1,"i":0.55},{"p":3,"s":"Ce","e":878.4,"i":0.71},{"p":3,"s":"Ce","e":878.8,"i":0.59},{"p":3,"s":"Ce","e":879.1,"i":0.75},{"p":3,"s":"Ce","e":879.4,"i":1},{"p":3,"s":"Ce","e":879.7,"i":0.8},{"p":3,"s":"Ce","e":879.9,"i":0.59},{"p":3,"s":"Ce","e":880.2,"i":0.6},{"p":3,"s":"Ce","e":880.6,"i":0.64},{"p":3,"s":"Ce","e":881.1,"i":0.51},{"p":3,"s":"Ce","e":881.6,"i":0.362},{"p":3,"s":"Ce","e":882,"i":0.228},{"p":3,"s":"Ce","e":882.6,"i":0.145},{"p":3,"s":"Ce","e":883.3,"i":0.1},{"p":3,"s":"Ce","e":884,"i":0.094},{"p":3,"s":"Ce","e":884.8,"i":0.11},{"p":3,"s":"Ce","e":885.5,"i":0.104},{"p":3,"s":"Ce","e":886,"i":0.073},{"p":3,"s":"Ce","e":886.7,"i":0.042},{"p":3,"s":"Ce","e":887.3,"i":0.024},{"p":3,"s":"Ce","e":888,"i":0.016},{"p":3,"s":"Ce","e":889,"i":0.013},{"p":3,"s":"Ce","e":890,"i":0.011},{"p":3,"s":"Ce","e":891,"i":0.022},{"p":3,"s":"Ce","e":891.5,"i":0.027},{"p":3,"s":"Ce","e":892.2,"i":0.037},{"p":3,"s":"Ce","e":893,"i":0.125},{"p":3,"s":"Ce","e":893.4,"i":0.17},{"p":3,"s":"Ce","e":893.9,"i":0.145},{"p":3,"s":"Ce","e":894.3,"i":0.176},{"p":3,"s":"Ce","e":895,"i":0.39},{"p":3,"s":"Ce","e":895.3,"i":0.36},{"p":3,"s":"Ce","e":895.8,"i":0.62},{"p":3,"s":"Ce","e":896.5,"i":0.795},{"p":3,"s":"Ce","e":897,"i":0.71},{"p":3,"s":"Ce","e":897.5,"i":0.64},{"p":3,"s":"Ce","e":898.2,"i":0.7},{"p":3,"s":"Ce","e":898.7,"i":0.63},{"p":3,"s":"Ce","e":899.3,"i":0.415},{"p":3,"s":"Ce","e":899.8,"i":0.238},{"p":3,"s":"Ce","e":900.5,"i":0.212},{"p":3,"s":"Ce","e":901.4,"i":0.19},{"p":3,"s":"Ce","e":902,"i":0.171},{"p":3,"s":"Ce","e":902.6,"i":0.192},{"p":3,"s":"Ce","e":903.2,"i":0.207},{"p":3,"s":"Ce","e":903.7,"i":0.175},{"p":3,"s":"Ce","e":904.2,"i":0.125},{"p":3,"s":"Ce","e":905,"i":0.073},{"p":3,"s":"Ce","e":906,"i":0.052},{"p":3,"s":"Ce","e":907,"i":0.032},{"p":3,"s":"Ce","e":907.8,"i":0.037},{"p":3,"s":"Ce","e":908.5,"i":0.022},{"p":3,"s":"Ce","e":909.5,"i":0.011},{"p":3,"s":"Ce","e":910,"i":0.001},{"p":3,"s":"Ce","e":911,"i":0.001},{"p":3,"s":"Ce","e":912,"i":0.006},{"p":3,"s":"Ce","e":913,"i":0.001},{"p":3,"s":"Ce","e":914,"i":0.001},{"p":3,"s":"Ce","e":915,"i":0.001},{"p":3,"s":"Ce","e":916,"i":-0.001},
{"p":3,"s":"Zr","e":866,"i":0.02},{"p":3,"s":"Zr","e":866.6,"i":-0.02},{"p":3,"s":"Zr","e":867.3,"i":-0.048},{"p":3,"s":"Zr","e":868,"i":-0.025},{"p":3,"s":"Zr","e":869,"i":0.001},{"p":3,"s":"Zr","e":870,"i":0.006},{"p":3,"s":"Zr","e":871,"i":0.016},{"p":3,"s":"Zr","e":872,"i":0.027},{"p":3,"s":"Zr","e":873,"i":0.011},{"p":3,"s":"Zr","e":874,"i":0.011},{"p":3,"s":"Zr","e":875,"i":0.027},{"p":3,"s":"Zr","e":876,"i":0.027},{"p":3,"s":"Zr","e":876.8,"i":0.068},{"p":3,"s":"Zr","e":877.3,"i":0.084},{"p":3,"s":"Zr","e":877.8,"i":0.26},{"p":3,"s":"Zr","e":878.1,"i":0.55},{"p":3,"s":"Zr","e":878.3,"i":0.74},{"p":3,"s":"Zr","e":878.7,"i":0.62},{"p":3,"s":"Zr","e":879,"i":0.578},{"p":3,"s":"Zr","e":879.4,"i":1},{"p":3,"s":"Zr","e":879.8,"i":0.547},{"p":3,"s":"Zr","e":880.2,"i":0.26},{"p":3,"s":"Zr","e":880.5,"i":0.21},{"p":3,"s":"Zr","e":881,"i":0.145},{"p":3,"s":"Zr","e":881.5,"i":0.104},{"p":3,"s":"Zr","e":882,"i":0.073},{"p":3,"s":"Zr","e":882.6,"i":0.042},{"p":3,"s":"Zr","e":883.5,"i":0.027},{"p":3,"s":"Zr","e":884.2,"i":0.022},{"p":3,"s":"Zr","e":884.8,"i":0.047},{"p":3,"s":"Zr","e":885.3,"i":0.022},{"p":3,"s":"Zr","e":886,"i":0.006},{"p":3,"s":"Zr","e":887,"i":0.011},{"p":3,"s":"Zr","e":888,"i":0.011},{"p":3,"s":"Zr","e":889,"i":0.006},{"p":3,"s":"Zr","e":890,"i":0.001},{"p":3,"s":"Zr","e":891,"i":0.027},{"p":3,"s":"Zr","e":891.8,"i":0.027},{"p":3,"s":"Zr","e":892.5,"i":0.053},{"p":3,"s":"Zr","e":893.3,"i":0.18},{"p":3,"s":"Zr","e":893.9,"i":0.125},{"p":3,"s":"Zr","e":894.4,"i":0.187},{"p":3,"s":"Zr","e":895,"i":0.395},{"p":3,"s":"Zr","e":895.3,"i":0.357},{"p":3,"s":"Zr","e":895.9,"i":0.67},{"p":3,"s":"Zr","e":896.5,"i":0.807},{"p":3,"s":"Zr","e":897,"i":0.67},{"p":3,"s":"Zr","e":897.5,"i":0.36},{"p":3,"s":"Zr","e":898,"i":0.31},{"p":3,"s":"Zr","e":898.6,"i":0.249},{"p":3,"s":"Zr","e":899.4,"i":0.135},{"p":3,"s":"Zr","e":900.2,"i":0.104},{"p":3,"s":"Zr","e":901,"i":0.094},{"p":3,"s":"Zr","e":901.5,"i":0.089},{"p":3,"s":"Zr","e":902.2,"i":0.073},{"p":3,"s":"Zr","e":902.8,"i":0.058},{"p":3,"s":"Zr","e":903.3,"i":0.068},{"p":3,"s":"Zr","e":904,"i":0.047},{"p":3,"s":"Zr","e":904.7,"i":0.037},{"p":3,"s":"Zr","e":905.3,"i":0.027},{"p":3,"s":"Zr","e":906,"i":0.022},{"p":3,"s":"Zr","e":907.4,"i":0.027},{"p":3,"s":"Zr","e":908,"i":0.016},{"p":3,"s":"Zr","e":909,"i":0.011},{"p":3,"s":"Zr","e":910,"i":0.006},{"p":3,"s":"Zr","e":911,"i":0.037},{"p":3,"s":"Zr","e":911.5,"i":0.022},{"p":3,"s":"Zr","e":912,"i":0.001},{"p":3,"s":"Zr","e":913,"i":-0.004},{"p":3,"s":"Zr","e":914,"i":-0.004},{"p":3,"s":"Zr","e":915,"i":-0.004},{"p":3,"s":"Zr","e":916,"i":-0.004},
{"p":3,"s":"F","e":866,"i":0.006},{"p":3,"s":"F","e":867,"i":-0.011},{"p":3,"s":"F","e":867.9,"i":-0.014},{"p":3,"s":"F","e":869,"i":0.006},{"p":3,"s":"F","e":870,"i":0.011},{"p":3,"s":"F","e":871,"i":0.011},{"p":3,"s":"F","e":872,"i":0.006},{"p":3,"s":"F","e":873,"i":0.027},{"p":3,"s":"F","e":874,"i":0.03},{"p":3,"s":"F","e":875,"i":0.037},{"p":3,"s":"F","e":875.7,"i":0.022},{"p":3,"s":"F","e":876.5,"i":0.078},{"p":3,"s":"F","e":877,"i":0.088},{"p":3,"s":"F","e":877.5,"i":0.2},{"p":3,"s":"F","e":877.8,"i":0.36},{"p":3,"s":"F","e":878.3,"i":0.71},{"p":3,"s":"F","e":878.8,"i":0.59},{"p":3,"s":"F","e":879.4,"i":1},{"p":3,"s":"F","e":879.7,"i":0.7},{"p":3,"s":"F","e":880,"i":0.41},{"p":3,"s":"F","e":880.4,"i":0.408},{"p":3,"s":"F","e":880.7,"i":0.42},{"p":3,"s":"F","e":881.1,"i":0.3},{"p":3,"s":"F","e":881.7,"i":0.196},{"p":3,"s":"F","e":882.2,"i":0.125},{"p":3,"s":"F","e":883,"i":0.089},{"p":3,"s":"F","e":884,"i":0.053},{"p":3,"s":"F","e":884.6,"i":0.016},{"p":3,"s":"F","e":885,"i":0.027},{"p":3,"s":"F","e":885.7,"i":0.047},{"p":3,"s":"F","e":886.3,"i":0.032},{"p":3,"s":"F","e":887,"i":0.006},{"p":3,"s":"F","e":887.5,"i":-0.004},{"p":3,"s":"F","e":888,"i":-0.011},{"p":3,"s":"F","e":889,"i":-0.007},{"p":3,"s":"F","e":890,"i":-0.014},{"p":3,"s":"F","e":891,"i":-0.011},{"p":3,"s":"F","e":891.6,"i":-0.018},{"p":3,"s":"F","e":892.2,"i":0.037},{"p":3,"s":"F","e":893,"i":0.104},{"p":3,"s":"F","e":893.4,"i":0.166},{"p":3,"s":"F","e":893.9,"i":0.114},{"p":3,"s":"F","e":894.3,"i":0.1},{"p":3,"s":"F","e":895,"i":0.36},{"p":3,"s":"F","e":895.3,"i":0.315},{"p":3,"s":"F","e":895.8,"i":0.62},{"p":3,"s":"F","e":896.5,"i":0.795},{"p":3,"s":"F","e":897,"i":0.62},{"p":3,"s":"F","e":897.4,"i":0.42},{"p":3,"s":"F","e":897.8,"i":0.41},{"p":3,"s":"F","e":898.1,"i":0.434},{"p":3,"s":"F","e":898.6,"i":0.361},{"p":3,"s":"F","e":899.2,"i":0.258},{"p":3,"s":"F","e":899.8,"i":0.176},{"p":3,"s":"F","e":900.4,"i":0.135},{"p":3,"s":"F","e":901,"i":0.114},{"p":3,"s":"F","e":901.6,"i":0.089},{"p":3,"s":"F","e":902.2,"i":0.078},{"p":3,"s":"F","e":903,"i":0.094},{"p":3,"s":"F","e":903.6,"i":0.073},{"p":3,"s":"F","e":904.2,"i":0.037},{"p":3,"s":"F","e":905,"i":0.011},{"p":3,"s":"F","e":906,"i":0.011},{"p":3,"s":"F","e":907,"i":0.006},{"p":3,"s":"F","e":908,"i":0.001},{"p":3,"s":"F","e":909,"i":-0.009},{"p":3,"s":"F","e":910,"i":0.006},{"p":3,"s":"F","e":910.6,"i":0.001},{"p":3,"s":"F","e":911,"i":-0.02},{"p":3,"s":"F","e":911.5,"i":-0.014},{"p":3,"s":"F","e":912,"i":-0.004},{"p":3,"s":"F","e":913,"i":0.001},{"p":3,"s":"F","e":914,"i":-0.004},{"p":3,"s":"F","e":915,"i":-0.009},{"p":3,"s":"F","e":916,"i":-0.014},
{"p":3,"s":"F2","e":866,"i":0.006},{"p":3,"s":"F2","e":867,"i":0.022},{"p":3,"s":"F2","e":868,"i":0.027},{"p":3,"s":"F2","e":869,"i":0.037},{"p":3,"s":"F2","e":869.6,"i":0.047},{"p":3,"s":"F2","e":870.5,"i":0.027},{"p":3,"s":"F2","e":871,"i":0.016},{"p":3,"s":"F2","e":872,"i":0.016},{"p":3,"s":"F2","e":873,"i":0.011},{"p":3,"s":"F2","e":874,"i":0.027},{"p":3,"s":"F2","e":875,"i":0.027},{"p":3,"s":"F2","e":876,"i":0.016},{"p":3,"s":"F2","e":876.6,"i":0.052},{"p":3,"s":"F2","e":877.3,"i":0.088},{"p":3,"s":"F2","e":877.8,"i":0.3},{"p":3,"s":"F2","e":878,"i":0.46},{"p":3,"s":"F2","e":878.4,"i":0.71},{"p":3,"s":"F2","e":878.9,"i":0.578},{"p":3,"s":"F2","e":879.4,"i":1},{"p":3,"s":"F2","e":880,"i":0.567},{"p":3,"s":"F2","e":880.5,"i":0.26},{"p":3,"s":"F2","e":881,"i":0.155},{"p":3,"s":"F2","e":881.5,"i":0.073},{"p":3,"s":"F2","e":882,"i":0.042},{"p":3,"s":"F2","e":883,"i":0.027},{"p":3,"s":"F2","e":884,"i":0.027},{"p":3,"s":"F2","e":885,"i":0.016},{"p":3,"s":"F2","e":885.6,"i":0.032},{"p":3,"s":"F2","e":886.5,"i":0.022},{"p":3,"s":"F2","e":887,"i":0.016},{"p":3,"s":"F2","e":888,"i":0.011},{"p":3,"s":"F2","e":889,"i":0.013},{"p":3,"s":"F2","e":890,"i":0.02},{"p":3,"s":"F2","e":891,"i":0.011},{"p":3,"s":"F2","e":891.6,"i":0.006},{"p":3,"s":"F2","e":892.2,"i":0.053},{"p":3,"s":"F2","e":892.8,"i":0.12},{"p":3,"s":"F2","e":893.4,"i":0.183},{"p":3,"s":"F2","e":893.9,"i":0.125},{"p":3,"s":"F2","e":894.3,"i":0.156},{"p":3,"s":"F2","e":895,"i":0.395},{"p":3,"s":"F2","e":895.3,"i":0.346},{"p":3,"s":"F2","e":895.8,"i":0.62},{"p":3,"s":"F2","e":896.5,"i":0.76},{"p":3,"s":"F2","e":897,"i":0.62},{"p":3,"s":"F2","e":897.5,"i":0.31},{"p":3,"s":"F2","e":898,"i":0.186},{"p":3,"s":"F2","e":898.6,"i":0.12},{"p":3,"s":"F2","e":899.3,"i":0.104},{"p":3,"s":"F2","e":900,"i":0.058},{"p":3,"s":"F2","e":901,"i":0.027},{"p":3,"s":"F2","e":901.6,"i":0.022},{"p":3,"s":"F2","e":902.4,"i":0.032},{"p":3,"s":"F2","e":902.8,"i":0.034},{"p":3,"s":"F2","e":903.5,"i":0.016},{"p":3,"s":"F2","e":904,"i":0.003},{"p":3,"s":"F2","e":905,"i":0.006},{"p":3,"s":"F2","e":906,"i":0.009},{"p":3,"s":"F2","e":907,"i":0.011},{"p":3,"s":"F2","e":908,"i":0.013},{"p":3,"s":"F2","e":909,"i":0.016},{"p":3,"s":"F2","e":909.8,"i":0.029},{"p":3,"s":"F2","e":910.5,"i":0.006},{"p":3,"s":"F2","e":911,"i":0.001},{"p":3,"s":"F2","e":912,"i":0.006},{"p":3,"s":"F2","e":912.7,"i":0.022},{"p":3,"s":"F2","e":913.3,"i":0.016},{"p":3,"s":"F2","e":914,"i":0.014},{"p":3,"s":"F2","e":915,"i":0.011},{"p":3,"s":"F2","e":916,"i":-0.004},
{"p":3,"s":"F4","e":866,"i":-0.014},{"p":3,"s":"F4","e":867,"i":-0.011},{"p":3,"s":"F4","e":868,"i":-0.004},{"p":3,"s":"F4","e":869,"i":0.016},{"p":3,"s":"F4","e":869.6,"i":0.034},{"p":3,"s":"F4","e":870.5,"i":0.022},{"p":3,"s":"F4","e":871,"i":0.011},{"p":3,"s":"F4","e":872,"i":0.011},{"p":3,"s":"F4","e":873,"i":0.016},{"p":3,"s":"F4","e":874,"i":0.022},{"p":3,"s":"F4","e":875,"i":0.032},{"p":3,"s":"F4","e":875.6,"i":0.024},{"p":3,"s":"F4","e":876.5,"i":0.073},{"p":3,"s":"F4","e":877,"i":0.084},{"p":3,"s":"F4","e":877.6,"i":0.26},{"p":3,"s":"F4","e":878,"i":0.57},{"p":3,"s":"F4","e":878.4,"i":0.712},{"p":3,"s":"F4","e":878.9,"i":0.583},{"p":3,"s":"F4","e":879.4,"i":1},{"p":3,"s":"F4","e":879.9,"i":0.567},{"p":3,"s":"F4","e":880.4,"i":0.26},{"p":3,"s":"F4","e":881,"i":0.135},{"p":3,"s":"F4","e":881.6,"i":0.063},{"p":3,"s":"F4","e":882.3,"i":0.037},{"p":3,"s":"F4","e":883,"i":0.032},{"p":3,"s":"F4","e":884,"i":0.027},{"p":3,"s":"F4","e":885.3,"i":0.027},{"p":3,"s":"F4","e":886,"i":0.016},{"p":3,"s":"F4","e":887,"i":0.011},{"p":3,"s":"F4","e":888,"i":0.011},{"p":3,"s":"F4","e":889,"i":0.006},{"p":3,"s":"F4","e":890,"i":0.006},{"p":3,"s":"F4","e":891,"i":0.001},{"p":3,"s":"F4","e":891.6,"i":-0.004},{"p":3,"s":"F4","e":892.2,"i":0.032},{"p":3,"s":"F4","e":892.8,"i":0.1},{"p":3,"s":"F4","e":893.4,"i":0.166},{"p":3,"s":"F4","e":893.9,"i":0.104},{"p":3,"s":"F4","e":894.3,"i":0.125},{"p":3,"s":"F4","e":895,"i":0.38},{"p":3,"s":"F4","e":895.3,"i":0.325},{"p":3,"s":"F4","e":895.8,"i":0.62},{"p":3,"s":"F4","e":896.5,"i":0.743},{"p":3,"s":"F4","e":897,"i":0.62},{"p":3,"s":"F4","e":897.5,"i":0.3},{"p":3,"s":"F4","e":898,"i":0.156},{"p":3,"s":"F4","e":898.5,"i":0.104},{"p":3,"s":"F4","e":899.3,"i":0.078},{"p":3,"s":"F4","e":900,"i":0.052},{"p":3,"s":"F4","e":901,"i":0.016},{"p":3,"s":"F4","e":901.5,"i":0.011},{"p":3,"s":"F4","e":902.2,"i":0.013},{"p":3,"s":"F4","e":902.8,"i":0.016},{"p":3,"s":"F4","e":903.5,"i":0.006},{"p":3,"s":"F4","e":904.2,"i":-0.004},{"p":3,"s":"F4","e":905,"i":0.001},{"p":3,"s":"F4","e":906,"i":0.001},{"p":3,"s":"F4","e":907,"i":0.003},{"p":3,"s":"F4","e":908,"i":0.006},{"p":3,"s":"F4","e":909,"i":0.006},{"p":3,"s":"F4","e":909.8,"i":0.013},{"p":3,"s":"F4","e":910.5,"i":0.006},{"p":3,"s":"F4","e":911,"i":-0.009},{"p":3,"s":"F4","e":912,"i":0.006},{"p":3,"s":"F4","e":913,"i":0.011},{"p":3,"s":"F4","e":914,"i":0.006},{"p":3,"s":"F4","e":915,"i":0.003},{"p":3,"s":"F4","e":916,"i":-0.004}
]},
"spacing":105,
"bounds":"flush",
"resolve":{"scale":{"x":"independent","y":"independent","color":"independent"}},
"hconcat":[
{"width":840,"height":678,
 "resolve":{"scale":{"x":"independent","y":"independent","color":"independent"}},
 "layer":[
  {"data":{"name":"spectra"},"transform":[{"filter":"datum.p===1"}],
   "mark":{"type":"line","strokeWidth":3,"interpolate":"monotone"},
   "encoding":{
    "x":{"field":"e","type":"quantitative","scale":{"domain":[862.5,920],"nice":false,"zero":false},
     "axis":{"title":"Energy (eV)","values":[862.5,865,867.5,870,872.5,875,877.5,880,882.5,885,887.5,890,892.5,895,897.5,900,902.5,905,907.5,910,912.5,915,917.5,920],"labelExpr":"datum.value%5===0?format(datum.value,'d'):''","labelFont":"Liberation Sans","labelFontSize":28,"labelColor":"#000","labelPadding":12,"labelOverlap":false,"labelFlush":false,"tickColor":"#000","tickWidth":2,"tickSize":{"condition":{"test":"datum.value%5===0","value":8},"value":4},"domain":false,"grid":false,"titleFont":"Liberation Sans","titleFontSize":32,"titleFontWeight":"normal","titleColor":"#000","titlePadding":16}},
    "y":{"field":"i","type":"quantitative","scale":{"domain":[-0.1,1.05],"nice":false,"zero":false},
     "axis":{"title":"Normalized Intensity (a.u.)","values":[-0.1,-0.05,0,0.05,0.1,0.15,0.2,0.25,0.3,0.35,0.4,0.45,0.5,0.55,0.6,0.65,0.7,0.75,0.8,0.85,0.9,0.95,1],"labels":false,"tickColor":"#000","tickWidth":2,"tickSize":{"condition":{"test":"abs(datum.value*10-round(datum.value*10))<0.001","value":-9},"value":-5},"domain":false,"grid":false,"titleFont":"Liberation Sans","titleFontSize":34,"titleFontWeight":"normal","titleColor":"#000","titlePadding":22}},
    "color":{"field":"s","type":"nominal","scale":{"domain":["Ce","Zr","F","F2","F4"],"range":["#4a4a4a","#ec3b3b","#1c6bdc","#2f9f63","#b07de0"]},"legend":null}}},
  {"data":{"values":[{"x1":862.5,"x2":920,"y1":-0.1,"y2":1.05}]},
   "mark":{"type":"rect","filled":false,"color":"#000","strokeWidth":2},
   "encoding":{"x":{"field":"x1","type":"quantitative","scale":{"domain":[862.5,920],"nice":false,"zero":false},"axis":null},"x2":{"field":"x2"},"y":{"field":"y1","type":"quantitative","scale":{"domain":[-0.1,1.05],"nice":false,"zero":false},"axis":null},"y2":{"field":"y2"}}},
  {"layer":[
    {"data":{"values":[{"g":"L","y":-113,"xb":-94,"x0":-101,"dl":-96.5,"dr":-91.5},{"g":"L","y":1070,"xb":-94,"x0":-101,"dl":-96.5,"dr":-91.5},{"g":"L","y":1087,"xb":-93.2,"x0":-101,"dl":-95.7,"dr":-90.7},{"g":"L","y":1102,"xb":-91.2,"x0":-101,"dl":-93.7,"dr":-88.7},{"g":"L","y":1117,"xb":-87.9,"x0":-101,"dl":-90.4,"dr":-85.4},{"g":"L","y":1132,"xb":-83.2,"x0":-101,"dl":-85.7,"dr":-80.7},{"g":"L","y":1147,"xb":-77,"x0":-101,"dl":-79.5,"dr":-74.5},{"g":"L","y":1159,"xb":-70.9,"x0":-101,"dl":-73.4,"dr":-68.4},{"g":"L","y":1172,"xb":-62.9,"x0":-101,"dl":-65.4,"dr":-60.4},{"g":"R","y":1127,"xb":2800.9,"x0":2801,"dl":2798.4,"dr":2801},{"g":"R","y":1137,"xb":2797.3,"x0":2801,"dl":2794.8,"dr":2799.8},{"g":"R","y":1147,"xb":2793,"x0":2801,"dl":2790.5,"dr":2795.5},{"g":"R","y":1157,"xb":2788,"x0":2801,"dl":2785.5,"dr":2790.5},{"g":"R","y":1165,"xb":2783.4,"x0":2801,"dl":2780.9,"dr":2785.9},{"g":"R","y":1172,"xb":2778.9,"x0":2801,"dl":2776.4,"dr":2781.4}]},
     "layer":[
      {"mark":{"type":"area","orient":"horizontal","color":"#d5ddc2"},
       "encoding":{"y":{"field":"y","type":"quantitative","scale":{"domain":[0,678],"nice":false,"zero":false,"reverse":true},"axis":null},"x":{"field":"xb","type":"quantitative","scale":{"domain":[0,840],"nice":false,"zero":false},"axis":null},"x2":{"field":"x0"},"detail":{"field":"g"}}},
      {"mark":{"type":"area","orient":"horizontal","color":"#56692f"},
       "encoding":{"y":{"field":"y","type":"quantitative","scale":{"domain":[0,678],"nice":false,"zero":false,"reverse":true},"axis":null},"x":{"field":"dl","type":"quantitative","scale":{"domain":[0,840],"nice":false,"zero":false},"axis":null},"x2":{"field":"dr"},"detail":{"field":"g"}}}
     ]},
    {"data":{"values":[{"s":"Ce","label":"Ce-UiO-66","x1":-49,"x2":55,"tx":66,"y":784},{"s":"Zr","label":"ZrCe-UiO-66","x1":-49,"x2":55,"tx":66,"y":839},{"s":"F","label":"ZrCe-F-UiO-66","x1":-49,"x2":55,"tx":66,"y":894},{"s":"F2","label":"ZrCe-F2-UiO-66","x1":-49,"x2":55,"tx":66,"y":949},{"s":"F4","label":"ZrCe-F4-UiO-66","x1":-49,"x2":55,"tx":66,"y":1004}]},
     "layer":[
      {"mark":{"type":"rule","strokeWidth":8,"strokeCap":"round"},
       "encoding":{"x":{"field":"x1","type":"quantitative","scale":{"domain":[0,840],"nice":false,"zero":false},"axis":null},"x2":{"field":"x2"},"y":{"field":"y","type":"quantitative","scale":{"domain":[0,678],"nice":false,"zero":false,"reverse":true},"axis":null},"color":{"field":"s","type":"nominal","scale":{"domain":["Ce","Zr","F","F2","F4"],"range":["#4a4a4a","#ec3b3b","#1c6bdc","#2f9f63","#b07de0"]},"legend":null}}},
      {"mark":{"type":"text","align":"left","baseline":"middle","fontSize":45,"font":"Liberation Sans"},
       "encoding":{"x":{"field":"tx","type":"quantitative","scale":{"domain":[0,840],"nice":false,"zero":false},"axis":null},"y":{"field":"y","type":"quantitative","scale":{"domain":[0,678],"nice":false,"zero":false,"reverse":true},"axis":null},"text":{"field":"label"},"color":{"field":"s","type":"nominal","scale":{"domain":["Ce","Zr","F","F2","F4"],"range":["#4a4a4a","#ec3b3b","#1c6bdc","#2f9f63","#b07de0"]},"legend":null}}}
     ]},
    {"data":{"values":[{"x":420,"y":-39,"t":"RT","f":48,"font":"Liberation Sans"},{"x":616,"y":1102,"t":"Heating in He","f":68,"font":"Lato"}]},
     "mark":{"type":"text","align":"center","baseline":"alphabetic","color":"#000"},
     "encoding":{"x":{"field":"x","type":"quantitative","scale":{"domain":[0,840],"nice":false,"zero":false},"axis":null},"y":{"field":"y","type":"quantitative","scale":{"domain":[0,678],"nice":false,"zero":false,"reverse":true},"axis":null},"text":{"field":"t"},"size":{"field":"f","type":"quantitative","scale":null},"font":{"field":"font"}}},
    {"data":{"values":[{"x":735,"y":880}]},
     "mark":{"type":"point","shape":"M -0.975 -0.958 Q -0.53 0.19 0.233 0.575 L 0.158 0.958 L 0.975 0.408 L 0.408 -0.425 L 0.325 -0.008 Q -0.375 -0.217 -0.975 -0.958 Z","size":57600,"filled":true,"fill":"#92d050","stroke":"#1d4a10","strokeWidth":3,"opacity":1},
     "encoding":{"x":{"field":"x","type":"quantitative","scale":{"domain":[0,840],"nice":false,"zero":false},"axis":null},"y":{"field":"y","type":"quantitative","scale":{"domain":[0,678],"nice":false,"zero":false,"reverse":true},"axis":null}}}
  ]}
 ]},
{"width":840,"height":1053,
 "resolve":{"scale":{"x":"independent","y":"independent","color":"independent"}},
 "layer":[
  {"data":{"name":"spectra"},"transform":[{"filter":"datum.p===2"}],
   "mark":{"type":"line","strokeWidth":3,"interpolate":"monotone"},
   "encoding":{
    "x":{"field":"e","type":"quantitative","scale":{"domain":[862.5,922.5],"nice":false,"zero":false},
     "axis":{"title":"Energy (eV)","values":[862.5,865,867.5,870,872.5,875,877.5,880,882.5,885,887.5,890,892.5,895,897.5,900,902.5,905,907.5,910,912.5,915,917.5,920,922.5],"labelExpr":"datum.value%5===0?format(datum.value,'d'):''","labelFont":"Liberation Sans","labelFontSize":28,"labelColor":"#000","labelPadding":12,"labelOverlap":false,"labelFlush":false,"tickColor":"#000","tickWidth":2,"tickSize":{"condition":{"test":"datum.value%5===0","value":8},"value":4},"domain":false,"grid":false,"titleFont":"Liberation Sans","titleFontSize":32,"titleFontWeight":"normal","titleColor":"#000","titlePadding":16}},
    "y":{"field":"i","type":"quantitative","scale":{"domain":[-0.05,1.05],"nice":false,"zero":false,"range":[1053,376]},
     "axis":{"title":"Normalized Intensity (a.u.)","values":[-0.05,0,0.05,0.1,0.15,0.2,0.25,0.3,0.35,0.4,0.45,0.5,0.55,0.6,0.65,0.7,0.75,0.8,0.85,0.9,0.95,1],"labels":false,"tickColor":"#000","tickWidth":2,"tickSize":{"condition":{"test":"abs(datum.value*10-round(datum.value*10))<0.001","value":-9},"value":-5},"domain":false,"grid":false,"titleFont":"Liberation Sans","titleFontSize":34,"titleFontWeight":"normal","titleColor":"#000","titlePadding":22}},
    "color":{"field":"s","type":"nominal","scale":{"domain":["Ce","Zr","F","F2","F4"],"range":["#4a4a4a","#ec3b3b","#1c6bdc","#2f9f63","#b07de0"]},"legend":null}}},
  {"data":{"values":[{"x1":862.5,"x2":922.5,"y1":-0.05,"y2":1.05}]},
   "mark":{"type":"rect","filled":false,"color":"#000","strokeWidth":2},
   "encoding":{"x":{"field":"x1","type":"quantitative","scale":{"domain":[862.5,922.5],"nice":false,"zero":false},"axis":null},"x2":{"field":"x2"},"y":{"field":"y1","type":"quantitative","scale":{"domain":[-0.05,1.05],"nice":false,"zero":false,"range":[1053,376]},"axis":null},"y2":{"field":"y2"}}},
  {"layer":[
    {"data":{"values":[{"x":128,"y":60,"t":"Ce(VI)"},{"x":653,"y":60,"t":"Ce(III)"}]},
     "mark":{"type":"text","align":"center","baseline":"alphabetic","fontSize":80,"fontWeight":"bold","font":"Liberation Sans","color":"#d772cc"},
     "encoding":{"x":{"field":"x","type":"quantitative","scale":{"domain":[0,840],"nice":false,"zero":false},"axis":null},"y":{"field":"y","type":"quantitative","scale":{"domain":[0,1053],"nice":false,"zero":false,"reverse":true},"axis":null},"text":{"field":"t"}}},
    {"data":{"values":[{"x":420,"y":356,"t":"250 °C"}]},
     "mark":{"type":"text","align":"center","baseline":"alphabetic","fontSize":48,"font":"Liberation Sans","color":"#000"},
     "encoding":{"x":{"field":"x","type":"quantitative","scale":{"domain":[0,840],"nice":false,"zero":false},"axis":null},"y":{"field":"y","type":"quantitative","scale":{"domain":[0,1053],"nice":false,"zero":false,"reverse":true},"axis":null},"text":{"field":"t"}}},
    {"data":{"values":[{"g":"a","o":0,"x":482,"y":16},{"g":"a","o":1,"x":311,"y":16},{"g":"b","o":0,"x":344,"y":-3},{"g":"b","o":1,"x":311,"y":16},{"g":"b","o":2,"x":344,"y":35},{"g":"c","o":0,"x":311,"y":57},{"g":"c","o":1,"x":482,"y":57},{"g":"d","o":0,"x":450,"y":38},{"g":"d","o":1,"x":482,"y":57},{"g":"d","o":2,"x":450,"y":76}]},
     "mark":{"type":"line","strokeWidth":8,"strokeCap":"round","strokeJoin":"round","color":"#92d050"},
     "encoding":{"x":{"field":"x","type":"quantitative","scale":{"domain":[0,840],"nice":false,"zero":false},"axis":null},"y":{"field":"y","type":"quantitative","scale":{"domain":[0,1053],"nice":false,"zero":false,"reverse":true},"axis":null},"detail":{"field":"g"},"order":{"field":"o"}}}
  ]}
 ]},
{"width":840,"height":705,
 "resolve":{"scale":{"x":"independent","y":"independent","color":"independent"}},
 "layer":[
  {"data":{"name":"spectra"},"transform":[{"filter":"datum.p===3"}],
   "mark":{"type":"line","strokeWidth":3,"interpolate":"monotone"},
   "encoding":{
    "x":{"field":"e","type":"quantitative","scale":{"domain":[862.5,920],"nice":false,"zero":false},
     "axis":{"title":"Energy (eV)","values":[862.5,865,867.5,870,872.5,875,877.5,880,882.5,885,887.5,890,892.5,895,897.5,900,902.5,905,907.5,910,912.5,915,917.5,920],"labelExpr":"datum.value%5===0?format(datum.value,'d'):''","labelFont":"Liberation Sans","labelFontSize":28,"labelColor":"#000","labelPadding":12,"labelOverlap":false,"labelFlush":false,"tickColor":"#000","tickWidth":2,"tickSize":{"condition":{"test":"datum.value%5===0","value":8},"value":4},"domain":false,"grid":false,"titleFont":"Liberation Sans","titleFontSize":32,"titleFontWeight":"normal","titleColor":"#000","titlePadding":16}},
    "y":{"field":"i","type":"quantitative","scale":{"domain":[-0.1,1.05],"nice":false,"zero":false,"range":[705,27]},
     "axis":{"title":"Normalized Intensity (a.u.)","values":[-0.1,-0.05,0,0.05,0.1,0.15,0.2,0.25,0.3,0.35,0.4,0.45,0.5,0.55,0.6,0.65,0.7,0.75,0.8,0.85,0.9,0.95,1],"labels":false,"tickColor":"#000","tickWidth":2,"tickSize":{"condition":{"test":"abs(datum.value*10-round(datum.value*10))<0.001","value":-9},"value":-5},"domain":false,"grid":false,"titleFont":"Liberation Sans","titleFontSize":34,"titleFontWeight":"normal","titleColor":"#000","titlePadding":18}},
    "color":{"field":"s","type":"nominal","scale":{"domain":["Ce","Zr","F","F2","F4"],"range":["#4a4a4a","#ec3b3b","#1c6bdc","#2f9f63","#b07de0"]},"legend":null}}},
  {"data":{"values":[{"x1":862.5,"x2":920,"y1":-0.1,"y2":1.05}]},
   "mark":{"type":"rect","filled":false,"color":"#000","strokeWidth":2},
   "encoding":{"x":{"field":"x1","type":"quantitative","scale":{"domain":[862.5,920],"nice":false,"zero":false},"axis":null},"x2":{"field":"x2"},"y":{"field":"y1","type":"quantitative","scale":{"domain":[-0.1,1.05],"nice":false,"zero":false,"range":[705,27]},"axis":null},"y2":{"field":"y2"}}},
  {"layer":[
    {"data":{"values":[{"x":420,"y":-9,"t":"O₂ exposure","f":48},{"x":399,"y":1080,"t":"15 min exposition to O₂","f":70}]},
     "mark":{"type":"text","align":"center","baseline":"alphabetic","font":"Liberation Sans","color":"#000"},
     "encoding":{"x":{"field":"x","type":"quantitative","scale":{"domain":[0,840],"nice":false,"zero":false},"axis":null},"y":{"field":"y","type":"quantitative","scale":{"domain":[0,705],"nice":false,"zero":false,"reverse":true},"axis":null},"text":{"field":"t"},"size":{"field":"f","type":"quantitative","scale":null}}},
    {"data":{"values":[{"x":49,"y":914}]},
     "mark":{"type":"point","shape":"M -0.968 0.248 Q -0.248 0.764 0.728 0.144 L 0.968 0.408 L 0.968 -0.472 L 0.08 -0.48 L 0.352 -0.224 Q -0.292 0.428 -0.968 0.248 Z","size":62500,"filled":true,"fill":"#92d050","stroke":"#1d4a10","strokeWidth":3,"opacity":1},
     "encoding":{"x":{"field":"x","type":"quantitative","scale":{"domain":[0,840],"nice":false,"zero":false},"axis":null},"y":{"field":"y","type":"quantitative","scale":{"domain":[0,705],"nice":false,"zero":false,"reverse":true},"axis":null}}}
  ]}
 ]}
]
}
